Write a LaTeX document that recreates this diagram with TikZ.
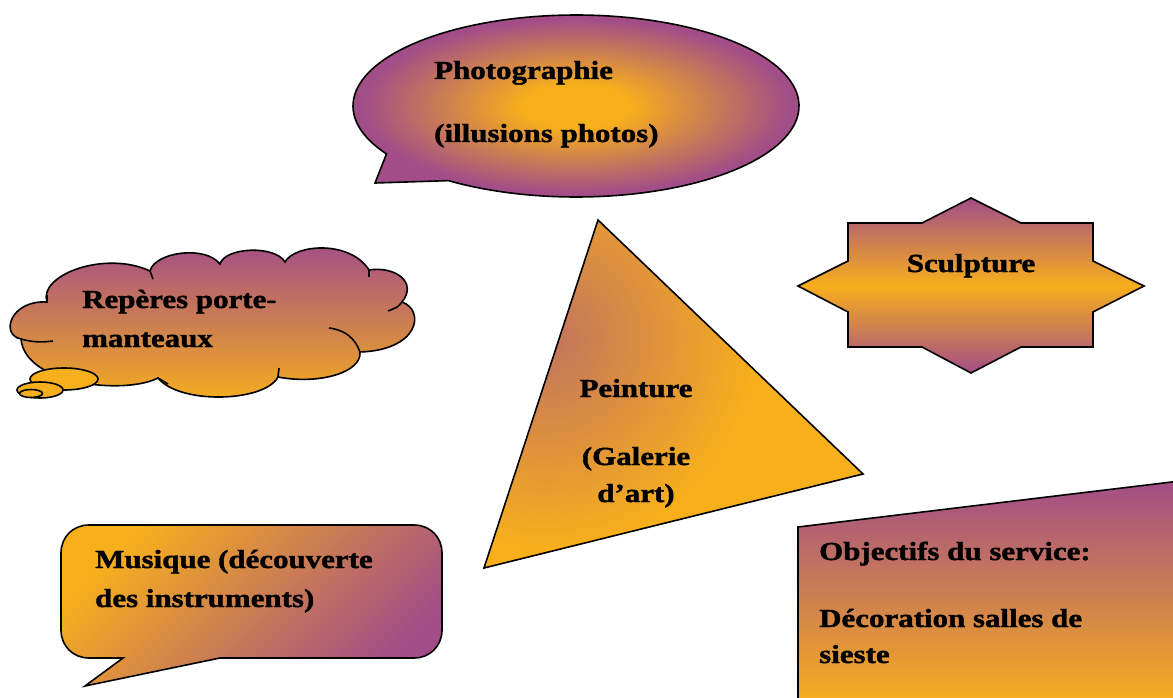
\documentclass[tikz,border=0pt]{standalone}
\usepackage{fontspec}
\newfontfamily\lblfont{Liberation Serif}[FakeStretch=1.19, FakeBold=1.5]
\definecolor{purp}{RGB}{162,77,136}
\definecolor{orng}{RGB}{247,175,28}
\pgfdeclareradialshading{photoshade}{\pgfpoint{0bp}{0bp}}{color(0bp)=(orng); color(6bp)=(orng); color(24bp)=(purp); color(50bp)=(purp)}
\begin{document}
\begin{tikzpicture}[x=1pt,y=-1pt,
  shp/.style={draw=black, line width=1.6pt},
  lbl/.style={font=\lblfont\bfseries\fontsize{26}{31}\selectfont, inner sep=0pt, text=black}]
\useasboundingbox (0,0) rectangle (1173,698);
\clip (0,0) rectangle (1173,698);
\fill[white] (0,0) rectangle (1173,698);

% cloud
\draw[shp, top color=purp, bottom color=orng]
 (47,302) .. controls (38,275) and (105,250) .. (150,271)
 .. controls (155,252) and (205,245) .. (220,264)
 .. controls (225,247) and (275,245) .. (285,262)
 .. controls (295,244) and (350,240) .. (369,270)
 .. controls (395,266) and (418,282) .. (402,302)
 .. controls (425,310) and (420,350) .. (360,352)
 .. controls (362,372) and (320,385) .. (278,377)
 .. controls (265,402) and (180,405) .. (158,378)
 .. controls (125,395) and (25,385) .. (21,339)
 .. controls (0,335) and (10,300) .. (47,302) -- cycle;
\draw[shp] (21,339) .. controls (35,343) and (45,342) .. (53,341);
\draw[shp] (360,352) .. controls (355,338) and (345,330) .. (329,328);
\draw[shp] (402,302) .. controls (398,307) .. (388,311);
\draw[shp] (278,377) -- (279,368);
\draw[shp] (150,271) -- (153,279);
\draw[shp] (369,270) -- (369,277);
\draw[shp] (47,302) -- (47,295);
\draw[shp] (158,378) -- (168,384);
\draw[shp, fill=orng] (64,379) ellipse [x radius=34pt, y radius=11pt];
\draw[shp, fill=orng] (40,390) ellipse [x radius=23pt, y radius=8pt];
\draw[shp, fill=orng] (31,393.5) ellipse [x radius=11.5pt, y radius=4pt];
\node[lbl, anchor=base west] (rep1) at (82,308) {Repères porte-};
\node[lbl, anchor=base west] (rep2) at (82,347) {manteaux};

% photographie callout
\draw[shp, shading=photoshade] plot[domain=148.2:484.9, samples=140] ({576+223*cos(\x)},{106+91*sin(\x)}) -- (375,183) -- cycle;
\node[lbl, anchor=base west] (ph1) at (434,79) {Photographie};
\node[lbl, anchor=base west] (ph2) at (434,142) {(illusions photos)};

% triangle
\begin{scope}
  \clip (598,220) -- (863,474) -- (484,568) -- cycle;
  \fill[orng] (470,210) rectangle (880,580);
  \shade[inner color=purp!62!orng, outer color=orng] (545,338) circle [radius=210pt];
\end{scope}
\draw[shp] (598,220) -- (863,474) -- (484,568) -- cycle;
\node[lbl, anchor=base] (pe1) at (636,397) {Peinture};
\node[lbl, anchor=base] (pe2) at (636,465) {(Galerie};
\node[lbl, anchor=base] (pe3) at (636,502) {d’art)};

% sculpture star
\draw[shp, top color=purp, bottom color=purp, middle color=orng]
 (971,198) -- (1021,223) -- (1093,223) -- (1093,261) -- (1144,286) -- (1093,312) -- (1093,347) -- (1021,347)
 -- (971,373) -- (922,347) -- (848,347) -- (848,312) -- (798,286) -- (848,261) -- (848,223) -- (922,223) -- cycle;
\node[lbl, anchor=base] (sc) at (971,272) {Sculpture};

% musique callout
\draw[shp, top color=orng, bottom color=purp, shading angle=45]
 (123,658) -- (89,658) .. controls (73,658) and (61,646) .. (61,630)
 -- (61,553) .. controls (61,537) and (73,525) .. (89,525)
 -- (414,525) .. controls (430,525) and (442,537) .. (442,553)
 -- (442,630) .. controls (442,646) and (430,658) .. (414,658)
 -- (220,658) -- (85,686) -- cycle;
\node[lbl, anchor=base west] (mu1) at (95,568) {Musique (découverte};
\node[lbl, anchor=base west] (mu2) at (95,607) {des instruments)};

% objectifs box
\draw[shp, top color=purp, bottom color=orng]
 (798,527) -- (1180,481) -- (1180,705) -- (798,705) -- cycle;
\node[lbl, anchor=base west] (ob1) at (819,560) {Objectifs du service:};
\node[lbl, anchor=base west] (ob2) at (819,627) {Décoration salles de};
\node[lbl, anchor=base west] (ob3) at (819,663) {sieste};
\end{tikzpicture}
\end{document}
